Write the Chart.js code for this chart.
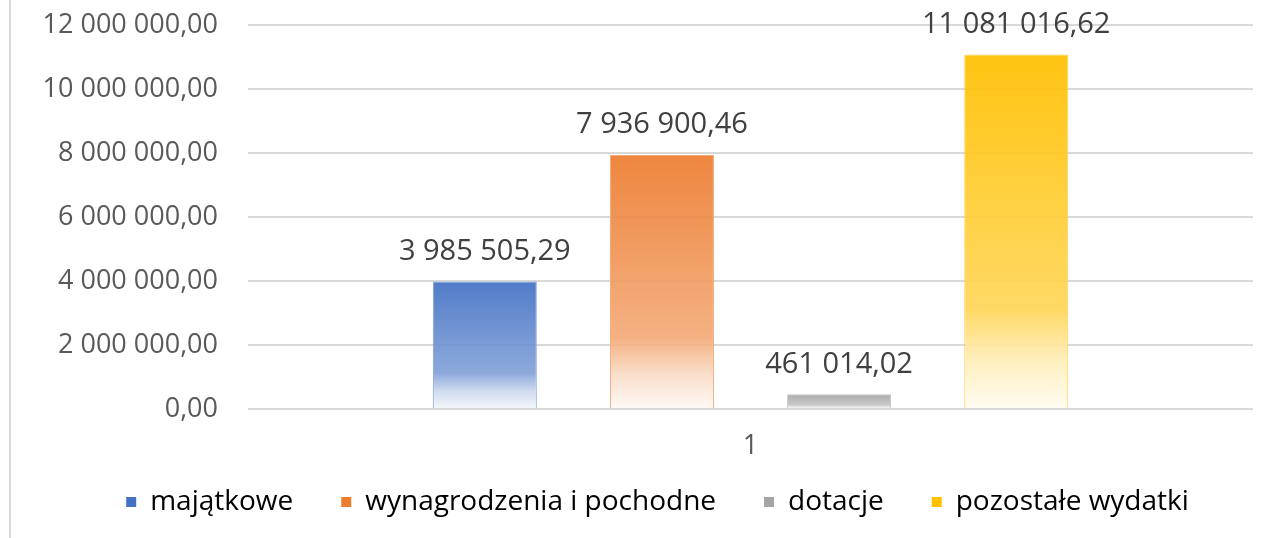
<!DOCTYPE html>
<html>
<head>
<meta charset="utf-8">
<script src="https://cdn.jsdelivr.net/npm/chart.js@4/dist/chart.umd.min.js"></script>
<style>
  html, body { margin: 0; padding: 0; background: #fff; }
  #wrap { position: relative; width: 1284px; height: 538px; }
  #frame { position: absolute; left: 9px; top: 0; width: 2px; height: 538px; background: #d9d9d9; }
  canvas { position: absolute; left: 0; top: 0; }
</style>
</head>
<body>
<div id="wrap">
  <div id="frame"></div>
  <canvas id="chart" width="1284" height="538"></canvas>
</div>
<script>
// ===== DATA =====
const categories = ['1'];
const seriesNames = ['majątkowe', 'wynagrodzenia i pochodne', 'dotacje', 'pozostałe wydatki'];
const seriesColors = ['#4472C4', '#ED7D31', '#A5A5A5', '#FFC000'];
const majatkowe = [3985505.29];
const wynagrodzenia = [7936900.46];
const dotacje = [461014.02];
const pozostale = [11081016.62];
const yTicks = [0, 2000000, 4000000, 6000000, 8000000, 10000000, 12000000];

const seriesValues = [majatkowe, wynagrodzenia, dotacje, pozostale];
const FONT = '"Open Sans", "Liberation Sans", sans-serif';
const TEXT = '#595959';

// "12 000 000,00" style
const fmt = v => {
  const parts = Number(v).toFixed(2).split('.');
  return parts[0].replace(/\B(?=(\d{3})+(?!\d))/g, ' ') + ',' + parts[1];
};

const tint = (hex, t, a = 0.93) => {
  const n = parseInt(hex.slice(1), 16);
  const r = (n >> 16) & 255, g = (n >> 8) & 255, b = n & 255;
  const m = c => Math.round(c + (255 - c) * t);
  return `rgba(${m(r)},${m(g)},${m(b)},${a})`;
};

// vertical fade from full colour at the bar top to almost white at the base
const barFill = color => ctx => {
  const chart = ctx.chart;
  if (!chart.chartArea || ctx.raw === undefined) return color;
  const y = chart.scales.y;
  const top = y.getPixelForValue(ctx.raw);
  const base = y.getPixelForValue(0);
  if (!isFinite(top) || base - top < 1) return color;
  const g = chart.ctx.createLinearGradient(0, top, 0, base);
  g.addColorStop(0, tint(color, 0));
  g.addColorStop(0.72, tint(color, 0.35));
  g.addColorStop(0.86, tint(color, 0.72));
  g.addColorStop(1, tint(color, 0.95));
  return g;
};

// value labels above bars + category label under the axis
const valueLabels = {
  id: 'valueLabels',
  afterLayout(chart) {
    // centre the legend row the way the reference does
    if (chart.legend) { chart.legend.left += 31; chart.legend.right += 31; }
  },
  afterDatasetsDraw(chart) {
    const { ctx } = chart;
    ctx.save();
    ctx.textAlign = 'center';
    ctx.textBaseline = 'middle';
    ctx.font = `29px ${FONT}`;
    ctx.fillStyle = '#404040';
    chart.data.datasets.forEach((ds, i) => {
      chart.getDatasetMeta(i).data.forEach((bar, j) => {
        ctx.fillText(fmt(ds.data[j]), bar.x, bar.y - 30);
      });
    });
    const x = chart.scales.x;
    ctx.font = `27px ${FONT}`;
    ctx.fillStyle = TEXT;
    categories.forEach((c, i) => ctx.fillText(c, x.getPixelForTick(i), chart.chartArea.bottom + 37));
    ctx.restore();
  }
};

new Chart(document.getElementById('chart'), {
  type: 'bar',
  data: {
    labels: categories,
    datasets: seriesNames.map((name, i) => ({
      label: name,
      data: seriesValues[i],
      backgroundColor: barFill(seriesColors[i]),
      borderColor: tint(seriesColors[i], 0.3),
      borderWidth: 1,
      categoryPercentage: 0.705,
      barPercentage: 0.587
    }))
  },
  options: {
    responsive: false,
    animation: false,
    layout: { padding: { top: 25, right: 31, bottom: 12, left: 0 } },
    plugins: {
      tooltip: { enabled: false },
      legend: {
        position: 'bottom',
        labels: {
          color: TEXT,
          font: { family: FONT, size: 28 },
          boxWidth: 10,
          boxHeight: 10,
          padding: 48,
          generateLabels: chart => chart.data.datasets.map((ds, i) => ({
            text: ds.label,
            fillStyle: seriesColors[i],
            strokeStyle: seriesColors[i],
            lineWidth: 0,
            datasetIndex: i
          }))
        }
      }
    },
    scales: {
      x: {
        grid: { display: false },
        border: { display: false },
        ticks: { display: false },
        afterFit: s => { s.height = 31; }
      },
      y: {
        min: 0,
        max: 12000000,
        afterBuildTicks: s => { s.ticks = yTicks.map(v => ({ value: v })); },
        afterFit: s => { s.width = 248; s.paddingTop = 16; s.paddingBottom = 16; },
        grid: { color: '#d9d9d9', lineWidth: 2, drawTicks: false },
        border: { display: false },
        ticks: {
          color: TEXT,
          font: { family: FONT, size: 27 },
          padding: 30,
          callback: v => fmt(v)
        }
      }
    }
  },
  plugins: [valueLabels]
});
</script>
</body>
</html>
